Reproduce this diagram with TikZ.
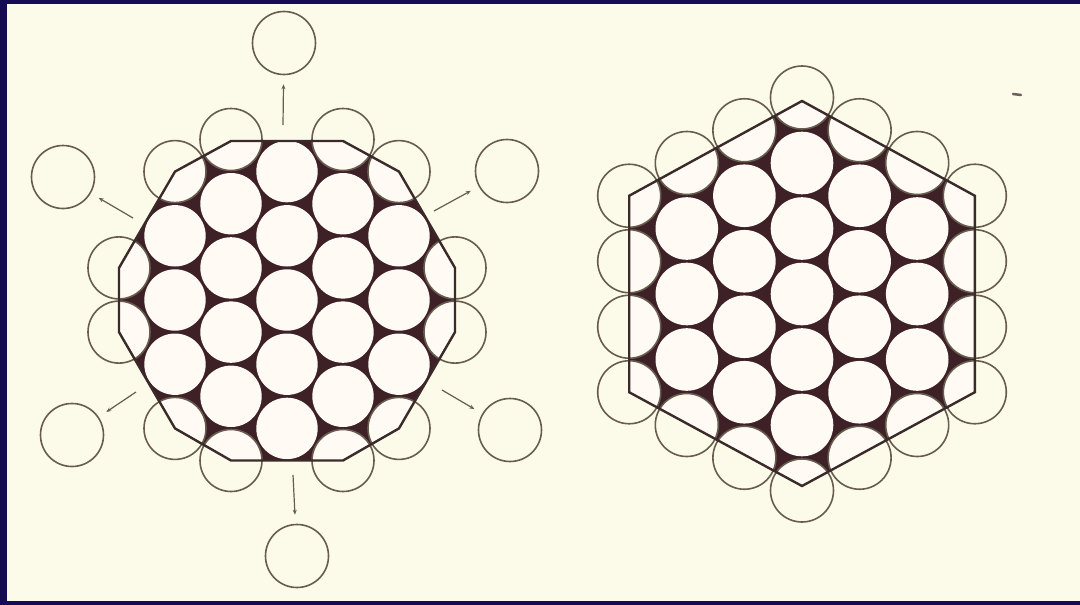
\documentclass[tikz,border=0pt]{standalone}
\usetikzlibrary{arrows.meta}
\definecolor{navy}{HTML}{150C55}
\definecolor{paper}{HTML}{FCFAE8}
\definecolor{pore}{HTML}{3E2027}
\definecolor{disc}{HTML}{FFFAF4}
\definecolor{ringc}{HTML}{665D4F}
\definecolor{polyc}{HTML}{3B2A2A}
\newcommand\latticepass[4]{%
  \foreach \cc in {-3,...,3}{%
    \pgfmathtruncatemacro\nn{6-abs(\cc)}%
    \foreach \jj in {0,...,\nn}{%
      \pgfmathsetmacro\px{\cc*#1}%
      \pgfmathsetmacro\py{(\jj-\nn/2)*#2}%
      \pgfmathtruncatemacro\isring{(abs(\cc)==3)||(\jj==0)||(\jj==\nn)}%
      \pgfmathtruncatemacro\iscorner{((\cc==0)&&((\jj==0)||(\jj==6)))||((abs(\cc)==3)&&((\jj==0)||(\jj==3)))}%
      \pgfmathtruncatemacro\omitme{#3*\iscorner}%
      \ifnum\omitme=0 #4\fi
    }}}
\begin{document}
\begin{tikzpicture}[x=1pt,y=-1pt,
  ringline/.style={draw=ringc,line width=1.6pt},
  polyline/.style={draw=polyc,line width=2.4pt,line join=miter},
  freedisc/.style={circle,draw=ringc,line width=1.6pt,minimum size=63pt,inner sep=0pt},
  arr/.style={draw=ringc,line width=1.2pt,-{Stealth[length=5pt,width=4pt]}},
]
\useasboundingbox (0,0) rectangle (1080,605);
\fill[navy] (0,0) rectangle (1080,605);
\fill[paper] (7,4) rectangle (1080,601);

% ---------- left figure ----------
\begin{scope}[shift={(287,300)}]
  \coordinate (L1) at (-56,-159);
  \coordinate (L2) at (56,-159);
  \coordinate (L3) at (112,-128.4);
  \coordinate (L4) at (168,-32.1);
  \coordinate (L5) at (168,32.1);
  \coordinate (L6) at (112,128.4);
  \coordinate (L7) at (56,160.5);
  \coordinate (L8) at (-56,160.5);
  \coordinate (L9) at (-112,128.4);
  \coordinate (L10) at (-168,32.1);
  \coordinate (L11) at (-168,-32.1);
  \coordinate (L12) at (-112,-128.4);
  \begin{scope}
    \clip (L1)--(L2)--(L3)--(L4)--(L5)--(L6)--(L7)--(L8)--(L9)--(L10)--(L11)--(L12)--cycle;
    \fill[pore] (L1)--(L2)--(L3)--(L4)--(L5)--(L6)--(L7)--(L8)--(L9)--(L10)--(L11)--(L12)--cycle;
    \latticepass{56}{64.2}{1}{\ifnum\isring=1 \fill[disc] (\px,\py) circle (31);\else \fill[disc] (\px,\py) circle (30.7);\fi}
  \end{scope}
  \latticepass{56}{64.2}{1}{\ifnum\isring=1 \draw[ringline] (\px,\py) circle (31);\fi}
  \draw[polyline] (L1)--(L2)--(L3)--(L4)--(L5)--(L6)--(L7)--(L8)--(L9)--(L10)--(L11)--(L12)--cycle;
\end{scope}

% detached circles and arrows
\node[freedisc] (dtop) at (284,43) {};
\node[freedisc] (dur) at (507,171) {};
\node[freedisc] (dlr) at (510,430) {};
\node[freedisc] (dbot) at (297,556) {};
\node[freedisc] (dll) at (72,435) {};
\node[freedisc] (dul) at (63,177) {};
\coordinate (atop) at (283,125);
\coordinate (aur) at (434,211);
\coordinate (alr) at (442,390);
\coordinate (abot) at (293,475);
\coordinate (all) at (136,392);
\coordinate (aul) at (133,218);
\draw[arr,shorten >=9pt] (atop) -- (dtop);
\draw[arr,shorten >=9pt] (aur) -- (dur);
\draw[arr,shorten >=9pt] (alr) -- (dlr);
\draw[arr,shorten >=9pt] (abot) -- (dbot);
\draw[arr,shorten >=9pt] (all) -- (dll);
\draw[arr,shorten >=9pt] (aul) -- (dul);

% ---------- right figure ----------
\begin{scope}[shift={(802,294)}]
  \coordinate (R1) at (0,-193);
  \coordinate (R2) at (172.8,-98.25);
  \coordinate (R3) at (172.8,98.25);
  \coordinate (R4) at (0,192);
  \coordinate (R5) at (-172.8,98.25);
  \coordinate (R6) at (-172.8,-98.25);
  \begin{scope}
    \clip (R1)--(R2)--(R3)--(R4)--(R5)--(R6)--cycle;
    \fill[pore] (R1)--(R2)--(R3)--(R4)--(R5)--(R6)--cycle;
    \latticepass{57.6}{65.5}{0}{\ifnum\isring=1 \fill[disc] (\px,\py) circle (31.5);\else \fill[disc] (\px,\py) circle (31.3);\fi}
  \end{scope}
  \latticepass{57.6}{65.5}{0}{\ifnum\isring=1 \draw[ringline] (\px,\py) circle (31.5);\fi}
  \draw[polyline] (R1)--(R2)--(R3)--(R4)--(R5)--(R6)--cycle;
\end{scope}

% small mark
\draw[draw=polyc!75,line width=2.5pt,line cap=round] (1013,94) -- (1021,95);
\end{tikzpicture}
\end{document}
